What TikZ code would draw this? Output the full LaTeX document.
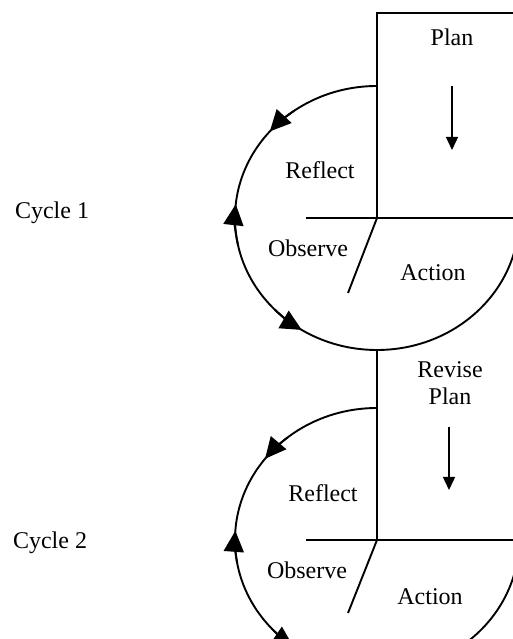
\documentclass[tikz,border=0pt]{standalone}
\usepackage{fontspec}
\setmainfont{Liberation Serif}
\usetikzlibrary{arrows.meta}
\tikzset{
    cycle_line/.style={line width=1.9pt},
    cycle_tip/.style={-{Triangle[length=21pt,width=20pt]},line width=1.9pt},
    plan_arrow/.style={-{Triangle[length=13pt,width=12pt]},line width=1.4pt},
    stage/.style={font=\fontsize{24}{27}\selectfont,inner sep=0pt,align=center},
}

\begin{document}
\begin{tikzpicture}[x=1pt,y=1pt]
  \useasboundingbox (0,0) rectangle (513,639);
  \clip (0,0) rectangle (513,639);
  % cycle 1
  \coordinate (C1) at (377,421);
  \coordinate (C1top) at (377,553);
  \coordinate (C1bot) at (377,289);
  \coordinate (B1) at (377,626);
  \coordinate (B1r) at (530,626);
  \coordinate (H1l) at (306,421);
  \coordinate (H1r) at (530,421);
  \coordinate (S1) at (348,346);
  \coordinate (P1a) at (452,553);
  \coordinate (P1b) at (452,489);
  \draw[cycle_line] (B1r) -- (B1) -- (C1);
  \draw[cycle_line] (H1l) -- (H1r);
  \draw[cycle_line] (C1) -- (S1);
  \draw[cycle_line] (C1top) arc (90:360:142 and 132);
  \draw[cycle_tip] (C1) ++(126:142 and 132) arc (126:139:142 and 132);
  \draw[cycle_tip] (C1) ++(192:142 and 132) arc (192:174:142 and 132);
  \draw[cycle_tip] (C1) ++(224:142 and 132) arc (224:238:142 and 132);
  \draw[plan_arrow] (P1a) -- (P1b);
  \node[stage] (plan1) at (452,602) {Plan};
  \node[stage] (reflect1) at (320,469) {Reflect};
  \node[stage] (observe1) at (308,391) {Observe};
  \node[stage] (action1) at (433,366) {Action};
  \node[stage] (cycle1) at (52,426) {Cycle 1};
  % cycle 2
  \coordinate (C2) at (377,99);
  \coordinate (C2top) at (377,231);
  \coordinate (H2l) at (306,99);
  \coordinate (H2r) at (530,99);
  \coordinate (S2) at (348,26);
  \coordinate (P2a) at (449,212);
  \coordinate (P2b) at (449,149);
  \draw[cycle_line] (C1bot) -- (C2);
  \draw[cycle_line] (H2l) -- (H2r);
  \draw[cycle_line] (C2) -- (S2);
  \draw[cycle_line] (C2top) arc (90:360:142 and 132);
  \draw[cycle_tip] (C2) ++(129:142 and 132) arc (129:142:142 and 132);
  \draw[cycle_tip] (C2) ++(190:142 and 132) arc (190:176:142 and 132);
  \draw[cycle_tip] (C2) ++(222:142 and 132) arc (222:234:142 and 132);
  \draw[plan_arrow] (P2a) -- (P2b);
  \node[stage] (revise2) at (450,256) {Revise\\Plan};
  \node[stage] (reflect2) at (323,146) {Reflect};
  \node[stage] (observe2) at (307,69) {Observe};
  \node[stage] (action2) at (430,42) {Action};
  \node[stage] (cycle2) at (50,96) {Cycle 2};
\end{tikzpicture}
\end{document}
